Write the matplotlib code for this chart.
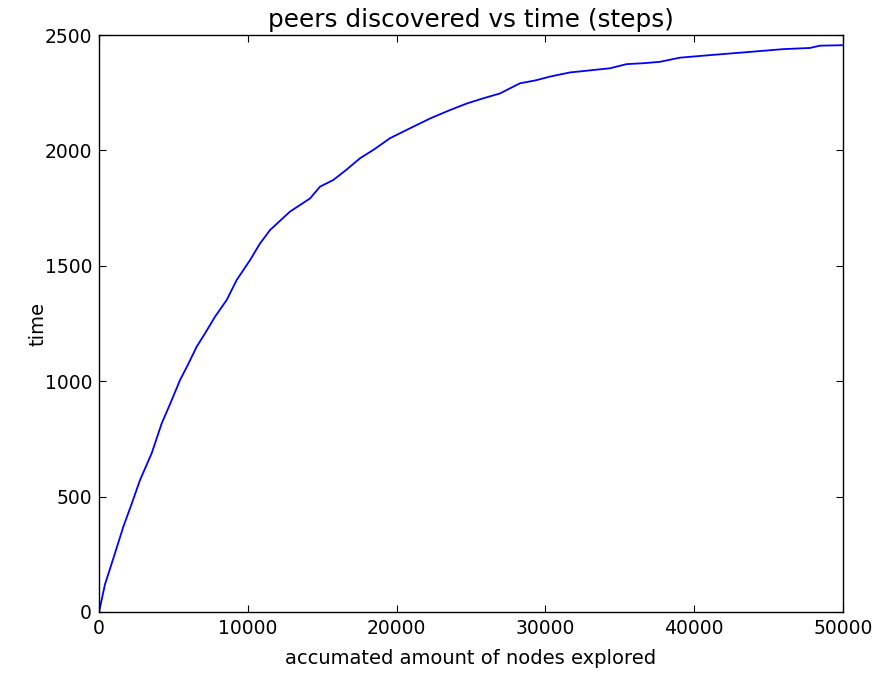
import matplotlib
matplotlib.use("Agg")
import matplotlib.pyplot as plt

# accumulated nodes explored vs. peers discovered
nodes = [0, 400, 1000, 1635, 2200, 2755, 3540, 4210, 4800, 5444, 6000, 6565,
         7120, 7800, 8580, 9255, 10150, 10800, 11490, 12835, 14180, 14850,
         15745, 16600, 17540, 18500, 19555, 21120, 22300, 23590, 24700,
         25830, 26950, 28290, 29300, 30310, 31655, 33000, 34340, 35460,
         36600, 37700, 39045, 41060, 42400, 43750, 45990, 47780, 48450, 50000]
peers = [0, 120, 240, 370, 470, 572, 688, 817, 905, 1005, 1075, 1150,
         1207, 1280, 1352, 1439, 1525, 1595, 1655, 1735, 1792, 1843,
         1872, 1915, 1966, 2005, 2053, 2103, 2140, 2175, 2203,
         2226, 2247, 2291, 2303, 2320, 2338, 2347, 2356, 2374,
         2378, 2384, 2402, 2413, 2420, 2427, 2439, 2444, 2454, 2456]

plt.rcParams['font.family'] = 'DejaVu Sans'

fig = plt.figure(figsize=(8.78, 6.74), dpi=100)
ax = fig.add_axes([0.1128, 0.092, 0.8473, 0.856])
ax.plot(nodes, peers, color='b', linewidth=1.3)

ax.set_xlim(0, 50000)
ax.set_ylim(0, 2500)
ax.set_xticks([0, 10000, 20000, 30000, 40000, 50000])
ax.set_yticks([0, 500, 1000, 1500, 2000, 2500])
ax.tick_params(direction='in', top=True, right=True, length=5, width=0.8,
               labelsize=13.5, pad=5)
for s in ax.spines.values():
    s.set_linewidth(1.0)

ax.set_title("peers discovered vs time (steps)", fontsize=17.8, pad=6)
ax.set_xlabel("accumated amount of nodes explored", fontsize=14, labelpad=8)
ax.set_ylabel("time", fontsize=14, labelpad=-2)

fig.savefig("out.png", dpi=100)
